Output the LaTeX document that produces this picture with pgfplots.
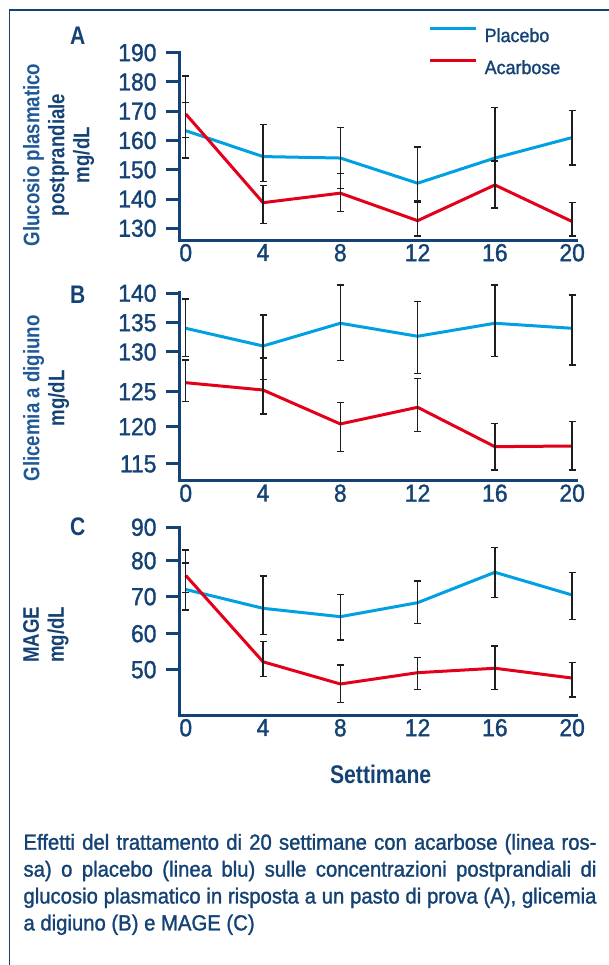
\documentclass[border=0pt]{standalone}
\usepackage{fontspec}
\setmainfont{Liberation Sans}[FakeStretch=0.93]
\newfontfamily\medfont{Liberation Sans}[FakeStretch=0.93, FakeBold=1.3]
\newfontfamily\boldcond{Liberation Sans}[FakeStretch=0.83]
\usepackage{pgfplots}
\pgfplotsset{compat=1.18}
\usepackage{pgfplotstable}

\definecolor{navy}{RGB}{20,66,116}
\definecolor{labblue}{RGB}{30,88,150}
\definecolor{placebo}{RGB}{0,160,226}
\definecolor{acarb}{RGB}{226,0,26}
\definecolor{errc}{RGB}{30,30,30}

% piecewise-linear y scales reproducing the original tick spacing of panels B and C
\pgfmathdeclarefunction{Tb}{1}{\pgfmathparse{#1<120 ? (#1-115)*7.46 : (#1<125 ? 37.3+(#1-120)*7.0 : (#1<130 ? 72.3+(#1-125)*7.94 : (#1<135 ? 112+(#1-130)*5.86 : 141.3+(#1-135)*5.88)))}}
\pgfmathdeclarefunction{Tc}{1}{\pgfmathparse{#1<60 ? (#1-50)*3.6 : (#1<70 ? 36+(#1-60)*3.7 : (#1<80 ? 73+(#1-70)*3.6 : 109+(#1-80)*3.34))}}

% Panel A: postprandial plasma glucose (mg/dL)
\pgfplotstableread{
x y ep em
0 163.35 9.7 9.35
4 154.5 11.0 8.6
8 154.0 10.5 10.5
12 145.4 12.4 6.1
16 154.0 17.2 17.2
20 161.0 9.2 9.4
}\placeboA
\pgfplotstableread{
x y ep em
0 169.06 13.0 8.0
4 138.75 5.75 7.05
8 142.0 6.7 6.3
12 132.6 6.1 5.2
16 144.8 8.2 7.6
20 132.3 6.4 4.9
}\acarbA
% Panel B: fasting glycaemia (mg/dL)
\pgfplotstableread{
x y ep em
0 134.04 5.0 4.58
4 131.02 5.29 4.46
8 134.9 6.51 6.0
12 132.68 5.89 5.36
16 134.9 6.51 5.49
20 134.04 5.67 5.68
}\placeboB
\pgfplotstableread{
x y ep em
0 126.13 2.86 2.56
4 125.21 4.03 3.4
8 120.39 3.04 3.74
12 122.77 3.92 3.44
16 117.32 3.17 3.12
20 117.41 3.30 3.21
}\acarbB
% Panel C: MAGE (mg/dL)
\pgfplotstableread{
x y ep em
0 72.0 7.4 5.6
4 66.86 8.89 7.06
8 64.6 6.07 6.35
12 68.38 5.98 5.68
16 76.78 7.22 7.05
20 70.47 6.2 6.67
}\placeboC
\pgfplotstableread{
x y ep em
0 75.9 7.3 4.7
4 52.2 5.6 4.14
8 46.03 5.27 5.13
12 49.17 4.23 4.62
16 50.4 6.2 5.85
20 47.68 4.38 5.28
}\acarbC

\pgfplotsset{
  panel/.style={
    scale only axis, width=397bp,
    axis lines*=left,
    axis line style={navy, line width=3bp, line cap=rect},
    xmin=-0.35, xmax=20.2,
    xtick={0,4,8,12,16,20},
    xtick style={draw=none},
    ytick style={navy, line width=3bp},
    major tick length=13bp,
    tick align=outside,
    tick label style={font=\medfont\fontsize{24.7}{24.7}\selectfont, text=navy},
    xticklabel style={yshift=13bp},
    yticklabel style={xshift=-6bp},
    /pgf/number format/assume math mode=true,
    clip=false,
    ylabel style={font=\boldcond\bfseries\fontsize{22.6}{25}\selectfont, text=navy, align=center, anchor=north, inner sep=0pt},
  },
  serie/.style={line width=3bp, no markers,
    error bars/y dir=both, error bars/y explicit,
    error bars/error bar style={errc, line width=1.3bp},
    error bars/error mark options={errc, rotate=90, mark size=3.5bp, line width=1.3bp}},
}
\tikzset{letter/.style={font=\boldcond\bfseries\fontsize{25.5}{25.5}\selectfont, text=navy, inner sep=0pt}}

\begin{document}
\begin{tikzpicture}[x=1bp,y=1bp]
\useasboundingbox (0,0) rectangle (609,965);
\draw[navy, line width=1.5bp] (609,955) -- (9.3,955) -- (9.3,0);

% ---------- A ----------
\begin{axis}[panel, at={(179bp,724.5bp)}, anchor=south west, height=187.8bp,
  ymin=125.83, ymax=190, ytick={130,140,...,190},
  ylabel={\textcolor{labblue}{Glucosio plasmatico}\\postprandiale\\mg/dL},
  ylabel style={at={(axis description cs:-0.393,0.455)}},
  legend style={at={(axis description cs:0.627,1.14)}, anchor=north west,
    draw=none, fill=none, inner sep=0pt, row sep=16.5bp,
    font=\medfont\fontsize{19.3}{19.3}\selectfont, text=navy,
    nodes={inner sep=0pt, text height=14bp, text depth=0bp}},
  legend cell align=left,
  legend image code/.code={\draw[#1, line width=3bp] (0bp,7bp) -- (46.6bp,7bp);},
]
\addplot[serie, placebo] table[x=x, y=y, y error plus=ep, y error minus=em] {\placeboA};
\addlegendentry{\hspace{7bp}Placebo}
\addplot[serie, acarb] table[x=x, y=y, y error plus=ep, y error minus=em] {\acarbA};
\addlegendentry{\hspace{7bp}Acarbose}
\node[letter] at (axis description cs:-0.255,1.089) {A};
\end{axis}

% ---------- B ----------
\begin{axis}[panel, at={(179bp,484bp)}, anchor=south west, height=188.3bp,
  y coord trafo/.code={\pgfmathparse{Tb(#1)}},
  ymin=112.72, ymax=140.1,
  ytick={115,120,125,130,135,140},
  yticklabels={115,120,125,130,135,140},
  ylabel={\textcolor{labblue}{Glicemia a digiuno}\\mg/dL},
  ylabel style={at={(axis description cs:-0.393,0.439)}},
]
\addplot[serie, placebo] table[x=x, y=y,
  y error plus expr={Tb(\thisrow{y}+\thisrow{ep})-Tb(\thisrow{y})},
  y error minus expr={Tb(\thisrow{y})-Tb(\thisrow{y}-\thisrow{em})}] {\placeboB};
\addplot[serie, acarb] table[x=x, y=y,
  y error plus expr={Tb(\thisrow{y}+\thisrow{ep})-Tb(\thisrow{y})},
  y error minus expr={Tb(\thisrow{y})-Tb(\thisrow{y}-\thisrow{em})}] {\acarbB};
\node[letter] at (axis description cs:-0.255,0.988) {B};
\end{axis}

% ---------- C ----------
\begin{axis}[panel, at={(179bp,249.5bp)}, anchor=south west, height=188.2bp,
  y coord trafo/.code={\pgfmathparse{Tc(#1)}},
  ymin=37.28, ymax=90,
  ytick={50,60,70,80,90},
  yticklabels={50,60,70,80,90},
  ylabel={MAGE\\mg/dL},
  ylabel style={at={(axis description cs:-0.393,0.428)}},
  xlabel={Settimane},
  xlabel style={at={(axis description cs:0.508,-0.311)}, anchor=center,
    font=\boldcond\bfseries\fontsize{25.6}{25.6}\selectfont, text=navy},
]
\addplot[serie, placebo] table[x=x, y=y,
  y error plus expr={Tc(\thisrow{y}+\thisrow{ep})-Tc(\thisrow{y})},
  y error minus expr={Tc(\thisrow{y})-Tc(\thisrow{y}-\thisrow{em})}] {\placeboC};
\addplot[serie, acarb] table[x=x, y=y,
  y error plus expr={Tc(\thisrow{y}+\thisrow{ep})-Tc(\thisrow{y})},
  y error minus expr={Tc(\thisrow{y})-Tc(\thisrow{y}-\thisrow{em})}] {\acarbC};
\node[letter] at (axis description cs:-0.255,1.003) {C};
\end{axis}

% ---------- caption ----------
\node[anchor=base west, inner sep=0pt, text=navy] at (23.3,115.3) {\parbox[t]{573bp}{\medfont\fontsize{21.9}{27}\selectfont
\hbox to 573bp{Effetti del trattamento di 20 settimane con acarbose (linea ros-}
\hbox to 573bp{sa) o placebo (linea blu) sulle concentrazioni postprandiali di}
\hbox to 573bp{glucosio plasmatico in risposta a un pasto di prova (A), glicemia}
\hbox{a digiuno (B) e MAGE (C)}}};
\end{tikzpicture}
\end{document}
